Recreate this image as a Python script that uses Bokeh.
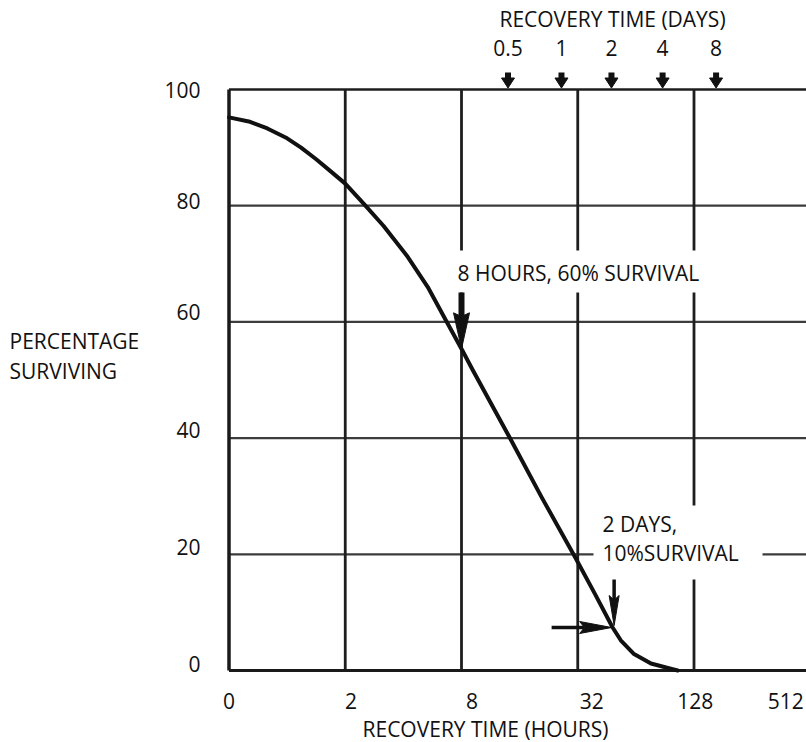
import numpy as np
from bokeh.plotting import figure
from bokeh.models import Range1d
from bokeh.core.properties import value
from bokeh.embed import file_html
from bokeh.resources import INLINE

# ---------------- data ----------------
# x positions are in "log-grid" units: 0 h -> 0, 2 h -> 1, 8 h -> 2, 32 h -> 3, 128 h -> 4
HOUR_LABELS = ["0", "2", "8", "32", "128", "512"]
HOUR_LABEL_POS = [0.0, 1.05, 2.09, 3.12, 4.01, 4.79]
HOUR_GRID_POS = [1, 2, 3, 4]
DAY_LABELS = ["0.5", "1", "2", "4", "8"]
DAY_POS = [2.40, 2.86, 3.29, 3.73, 4.19]
PCT_TICKS = [0, 20, 40, 60, 80, 100]
PCT_LABELS = ["0", "20", "40", "60", "80", "100"]
PCT_GRID = [20, 40, 60, 80]

CURVE_X = [0.0, 0.17, 0.33, 0.50, 0.62, 0.75, 0.87, 1.00, 1.16, 1.33, 1.53, 1.71,
           1.87, 2.01, 2.10, 2.42, 2.69, 2.98, 3.15, 3.30, 3.37, 3.48, 3.63, 3.80, 3.86]
CURVE_Y = [95.2, 94.5, 93.3, 91.6, 90.0, 88.0, 86.0, 83.8, 80.3, 76.5, 71.4, 66.0,
           60.1, 55.0, 51.6, 39.9, 29.8, 19.4, 13.1, 7.4, 5.2, 2.9, 1.2, 0.3, 0.0]

MARK_8H_X = 2.0     # 8 hours
MARK_2D_X = 3.30    # 2 days

# ---------------- layout ----------------
W, H = 806, 742
FONT = "Open Sans"
FS = "21px"
INK = "#111111"

PX_X = 116.25          # pixels per x unit
PX_Y = 5.81            # pixels per y unit
X0_PX = 228.5          # canvas x of x = 0
Y0_PX = 670.0          # canvas y of y = 0


def dx(px):
    return (px - X0_PX) / PX_X


def dy(py):
    return (Y0_PX - py) / PX_Y


X_END = dx(W)
TOP = PCT_TICKS[-1]

p = figure(width=W, height=H, output_backend="svg", toolbar_location=None,
           x_range=Range1d(dx(0), dx(W)), y_range=Range1d(dy(H), dy(0)),
           x_axis_location=None, y_axis_location=None,
           min_border=0, min_border_left=0, min_border_right=0,
           min_border_top=0, min_border_bottom=0)
p.outline_line_color = None
p.background_fill_color = "white"
p.border_fill_color = "white"
p.xgrid.visible = False
p.ygrid.visible = False

# horizontal grid lines
p.segment(x0=[0] * len(PCT_GRID), y0=PCT_GRID, x1=[X_END] * len(PCT_GRID), y1=PCT_GRID,
          line_color="#3c3c3c", line_width=2.2)
# vertical grid lines (stop at the 100 line)
p.segment(x0=HOUR_GRID_POS, y0=[0] * len(HOUR_GRID_POS), x1=HOUR_GRID_POS,
          y1=[TOP] * len(HOUR_GRID_POS), line_color="#1e1e1e", line_width=2.8)
# frame: top, bottom, left
p.segment(x0=[0], y0=[TOP], x1=[X_END], y1=[TOP], line_color="#1e1e1e", line_width=2.6)
p.segment(x0=[0], y0=[0], x1=[X_END], y1=[0], line_color="#1a1a1a", line_width=3)
p.segment(x0=[0], y0=[0], x1=[0], y1=[TOP], line_color="#1a1a1a", line_width=3.5)

# white boxes behind the annotation texts
box8 = dict(left=dx(450), right=dx(706), bottom=dy(292), top=dy(250))
box2 = dict(left=dx(593), right=dx(762), bottom=dy(579), top=dy(505))
p.quad(left=[box8["left"], box2["left"]], right=[box8["right"], box2["right"]],
       bottom=[box8["bottom"], box2["bottom"]], top=[box8["top"], box2["top"]],
       fill_color="white", line_color=None)

# curve
p.line(CURVE_X, CURVE_Y, line_color=INK, line_width=4, line_join="round", line_cap="round")

# ---------------- arrows ----------------
head_xs, head_ys = [], []
stem_x0, stem_y0, stem_x1, stem_y1, stem_w = [], [], [], [], []


def down_arrow(x, ytip, head_len, head_w, stem_top_y, sw, notch=0.15):
    base = ytip + head_len / PX_Y
    head_xs.append([x - head_w / 2 / PX_X, x, x + head_w / 2 / PX_X, x])
    head_ys.append([base, ytip, base, base - notch * head_len / PX_Y])
    stem_x0.append(x); stem_x1.append(x)
    stem_y0.append(base - notch * head_len / PX_Y); stem_y1.append(stem_top_y)
    stem_w.append(sw)


def right_arrow(xtip, y, head_len, head_w, tail_x, sw, notch=0.15):
    base = xtip - head_len / PX_X
    head_xs.append([base, xtip, base, base + notch * head_len / PX_X])
    head_ys.append([y + head_w / 2 / PX_Y, y, y - head_w / 2 / PX_Y, y])
    stem_x0.append(tail_x); stem_x1.append(base + notch * head_len / PX_X)
    stem_y0.append(y); stem_y1.append(y)
    stem_w.append(sw)


# 8 hours marker
y8 = float(np.interp(MARK_8H_X, CURVE_X, CURVE_Y))
down_arrow(MARK_8H_X, y8, 36, 16, box8["bottom"], 6, notch=0.1)

# 2 days marker
y2d = float(np.interp(MARK_2D_X, CURVE_X, CURVE_Y))
down_arrow(MARK_2D_X + 1.5 / PX_X, y2d + 2 / PX_Y, 30, 10, box2["bottom"], 3.5)
right_arrow(MARK_2D_X - 1 / PX_X, y2d, 32, 12, MARK_2D_X - 61 / PX_X, 3.5)

# small arrows on the top border (days)
for xd in DAY_POS:
    down_arrow(xd, TOP + 1.5 / PX_Y, 10, 13, TOP + 17 / PX_Y, 6, notch=0.0)

p.segment(x0=stem_x0, y0=stem_y0, x1=stem_x1, y1=stem_y1, line_color=INK,
          line_width=stem_w, line_cap="butt")
p.patches(head_xs, head_ys, fill_color=INK, line_color=INK, line_width=1)

# ---------------- texts ----------------
txt = dict(text_font=value(FONT), text_font_size=value(FS), text_color=INK,
           text_baseline="middle")

# tick labels
p.text(x=[dx(200)] * len(PCT_TICKS), y=PCT_TICKS, text=PCT_LABELS, text_align="right",
       y_offset=[-7, -7, -8, -10, -5, 0], **txt)
p.text(x=HOUR_LABEL_POS, y=[dy(700)] * len(HOUR_LABEL_POS), text=HOUR_LABELS,
       text_align="center", **txt)
p.text(x=DAY_POS, y=[dy(47)] * len(DAY_POS), text=DAY_LABELS, text_align="center", **txt)

# titles and notes
p.text(x=[dx(612), dx(485)], y=[dy(18), dy(728)],
       text=["RECOVERY TIME (DAYS)", "RECOVERY TIME (HOURS)"], text_align="center", **txt)
p.text(x=[dx(9), dx(9)], y=[dy(340), dy(370)], text=["PERCENTAGE", "SURVIVING"],
       text_align="left", **txt)
p.text(x=[dx(457), dx(602), dx(602)], y=[dy(272), dy(523), dy(552)],
       text=["8 HOURS, 60% SURVIVAL", "2 DAYS,", "10%SURVIVAL"], text_align="left", **txt)

open("out.html", "w").write(file_html(p, INLINE))
